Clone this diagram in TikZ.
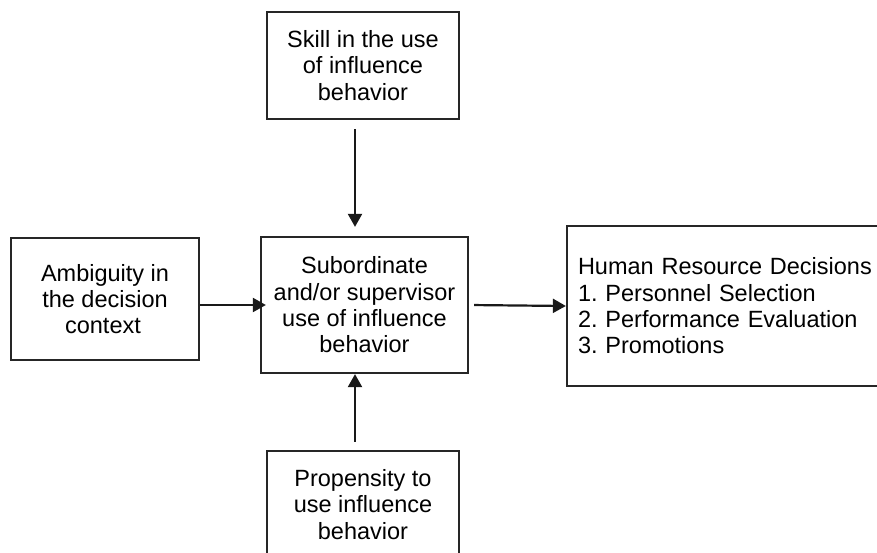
\documentclass[tikz,border=0pt]{standalone}
\usepackage{fontspec}
\setmainfont{Liberation Sans}
\usetikzlibrary{arrows.meta}
\begin{document}
\frenchspacing
\begin{tikzpicture}[x=1pt,y=-1pt,
  box/.style={draw=black!85, line width=2.3pt, inner sep=0pt, font=\fontsize{23.5}{26.3}\selectfont},
  conn/.style={draw=black!90, line width=2.2pt, -{Triangle[length=13pt,width=14pt]}}]
\useasboundingbox (0,0) rectangle (877,553);
\clip (0,0) rectangle (877,553);
\fill[white] (0,0) rectangle (877,553);
\node[box, minimum width=192pt, minimum height=107pt, align=center] (top) at (363,65.5)
  {Skill in the use\\of influence\\behavior};
\node[box, minimum width=188pt, minimum height=122pt, align=center] (left) at (105,299)
  {Ambiguity in\\the decision\\context\hspace*{4pt}};
\node[box, minimum width=207pt, minimum height=136pt, align=center] (mid) at (364.5,305)
  {Subordinate\\and/or supervisor\\use of influence\\behavior};
\node[box, minimum width=323pt, minimum height=160pt, text width=301pt, align=left, inner xsep=11pt] (right) at (728.5,306)
  {Human Resource Decisions\\1. Personnel Selection\\2. Performance Evaluation\\3. Promotions\\[3pt]};
\node[box, minimum width=192pt, minimum height=107pt, align=center] (bot) at (363,504.5)
  {Propensity to\\use influence\\behavior};
\coordinate (ax) at (355,0);
\draw[conn, shorten <=9pt, shorten >=9pt] (top.south -| ax) -- (mid.north -| ax);
\draw[conn, shorten <=8pt] (bot.north -| ax) -- (mid.south -| ax);
\draw[conn, shorten >=-6pt] (left.east |- mid.west) -- (mid.west);
\draw[conn, shorten <=5pt] (mid.east) -- (right.west);
\end{tikzpicture}
\end{document}
